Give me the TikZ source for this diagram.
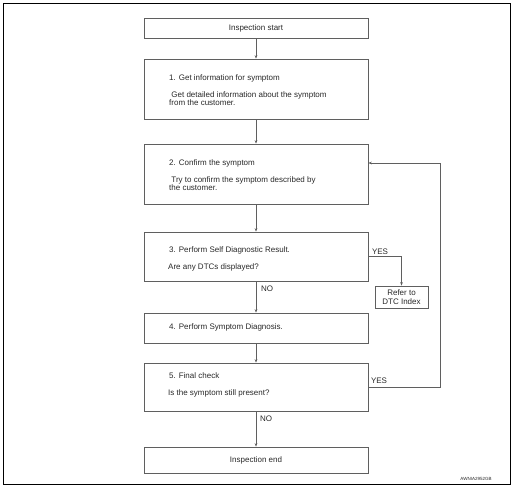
\documentclass[tikz,border=0pt]{standalone}
\usepackage{fontspec}
\setmainfont{Liberation Sans}
\usetikzlibrary{arrows.meta}
\definecolor{boxgray}{RGB}{95,95,95}
\definecolor{txt}{RGB}{40,40,40}
\tikzset{
  box/.style={draw=boxgray, line width=0.7pt, minimum width=224pt, inner sep=0pt, anchor=center},
  smallbox/.style={draw=boxgray, line width=0.7pt, minimum width=53pt, minimum height=22pt, inner sep=0pt, align=center, text=txt, font=\fontsize{8}{9}\selectfont},
  lbl/.style={anchor=west, inner sep=0pt, text=txt, font=\fontsize{8}{7}\selectfont, align=left},
  ctr/.style={inner sep=0pt, text=txt, font=\fontsize{8}{7}\selectfont},
  conn/.style={draw=boxgray, line width=0.7pt, -{Stealth[length=3.5pt,width=2.6pt]}},
  plain/.style={draw=boxgray, line width=0.7pt},
}
\begin{document}
\begin{tikzpicture}[x=1pt,y=-1pt]
\useasboundingbox (0,0) rectangle (513,488);
\draw[line width=1pt] (3,3) rectangle (510,484);
% boxes
\node[box, minimum height=20pt] (start) at (256,28) {};
\node[box, minimum height=60pt] (b1) at (256,89) {};
\node[box, minimum height=60pt] (b2) at (256,174) {};
\node[box, minimum height=49pt] (b3) at (256,256.5) {};
\node[smallbox] (refer) at (401.5,297) {Refer to\\DTC Index};
\node[box, minimum height=30pt] (b4) at (256,328) {};
\node[box, minimum height=48pt] (b5) at (256,387) {};
\node[box, minimum height=26pt] (end) at (256,460) {};
% texts
\node[ctr] (tstart) at (start.center) {Inspection start};
\node[lbl] (t1a) at (169,78) {1. Get information for symptom};
\node[lbl] (t1b) at (169,98.5) {\ Get detailed information about the symptom\\from the customer.};
\node[lbl] (t2a) at (169,163) {2. Confirm the symptom};
\node[lbl] (t2b) at (169,183.5) {\ Try to confirm the symptom described by\\the customer.};
\node[lbl] (t3a) at (169,250) {3. Perform Self Diagnostic Result.};
\node[lbl] (t3b) at (168,267) {Are any DTCs displayed?};
\node[lbl] (t4) at (169,327.5) {4. Perform Symptom Diagnosis.};
\node[lbl] (t5a) at (169,376) {5. Final check};
\node[lbl] (t5b) at (168,393) {Is the symptom still present?};
\node[ctr] (tend) at (end.center) {Inspection end};
% labels
\node[ctr] (yes1) at (380,252) {YES};
\node[ctr] (no1) at (267,289) {NO};
\node[ctr] (yes2) at (379,381) {YES};
\node[ctr] (no2) at (266,419) {NO};
\node[inner sep=0pt, font=\fontsize{4.5}{5}\selectfont, text=txt] (code) at (476,479) {AWNIA2952GB};
% connectors
\draw[conn] (start.south) -- (b1.north);
\draw[conn] (b1.south) -- (b2.north);
\draw[conn] (b2.south) -- (b3.north);
\draw[conn] (b3.south) -- (b4.north);
\draw[conn] (b4.south) -- (b5.north);
\draw[conn] (b5.south) -- (end.north);
\draw[conn] (b3.east) -| (refer.north);
\coordinate (b2in) at ([yshift=11pt]b2.east);
\coordinate (loopx) at (440,387);
\draw[conn] (b5.east) -- (loopx) |- (b2in);
\end{tikzpicture}
\end{document}
